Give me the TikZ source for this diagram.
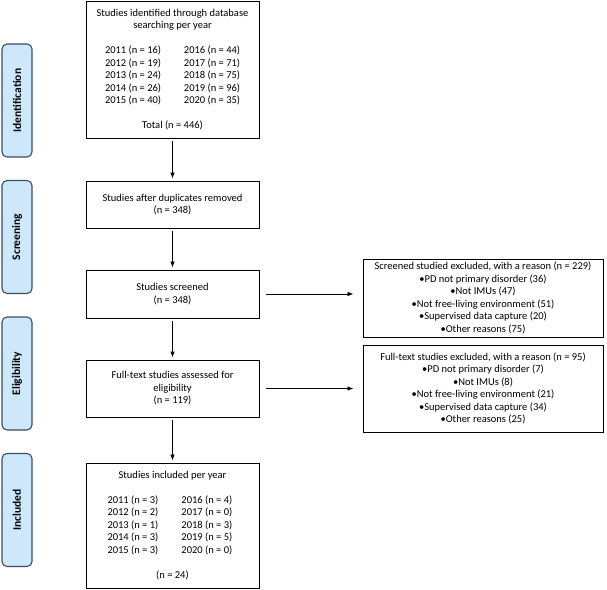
\documentclass[tikz,border=0pt]{standalone}
\usepackage{fontspec}
\setmainfont{Carlito}
\usetikzlibrary{positioning, arrows.meta}
\definecolor{phasefill}{HTML}{CDE8FA}
\definecolor{phaseline}{HTML}{3E4B63}
\tikzset{
  box/.style={draw, line width=0.9pt, align=center, minimum width=173pt, inner sep=2pt, font=\fontsize{10.5}{12.5}\selectfont},
  phase/.style={draw=phaseline, fill=phasefill, line width=1.1pt, rounded corners=5pt, rotate=90, minimum width=113pt, minimum height=30pt, font=\fontsize{11.5}{13}\selectfont\bfseries},
  flow/.style={-{Latex[length=6pt,width=4.5pt]}, line width=0.8pt, shorten <=3pt, shorten >=2pt}
}
\newcommand{\yrs}[3][79pt]{\makebox[#1][l]{#2}\makebox[56pt][l]{#3}}

\begin{document}
\begin{tikzpicture}[x=1pt, y=-1pt]
			\useasboundingbox (0,0) rectangle (607,589);
			% phases
			\node[phase] (lident) at (17,100.5) {Identification};
			\node[phase] (lscreen) at (17,237) {Screening};
			\node[phase] (lelig) at (17,373.5) {Eligibility};
			\node[phase] (lincl) at (17,510) {Included};
			% main boxes
			\node[box, minimum height=137pt] (ident) at (172.5,69.5) {Studies identified through database\\ searching per year\\[12.5pt]
				\yrs{2011 (n = 16)}{2016 (n = 44)}\\
				\yrs{2012 (n = 19)}{2017 (n = 71)}\\
				\yrs{2013 (n = 24)}{2018 (n = 75)}\\
				\yrs{2014 (n = 26)}{2019 (n = 96)}\\
				\yrs{2015 (n = 40)}{2020 (n = 35)}\\[12.5pt]
				Total (n = 446)};
			\node[box, minimum height=47pt] (dup) at (172.5,204.5) {Studies after duplicates removed\\ (n = 348)};
			\node[box, minimum height=48pt] (scr) at (172.5,294) {Studies screened\\ (n = 348)};
			\node[box, minimum height=57pt] (full) at (172.5,388.5) {Full-text studies assessed for\\ eligibility\\ (n = 119)};
			\node[box, minimum height=125pt] (incl) at (172.5,525.5) {Studies included per year\\[12.5pt]
				\yrs[74pt]{2011 (n = 3)}{2016 (n = 4)}\\
				\yrs[74pt]{2012 (n = 2)}{2017 (n = 0)}\\
				\yrs[74pt]{2013 (n = 1)}{2018 (n = 3)}\\
				\yrs[74pt]{2014 (n = 3)}{2019 (n = 5)}\\
				\yrs[74pt]{2015 (n = 3)}{2020 (n = 0)}\\[12.5pt]
				(n = 24)};
			% exclusions
			\node[box, minimum width=240pt, minimum height=78pt] (excl1) at (483,298) {Screened studied excluded, with a reason (n = 229)\\
				•PD not primary disorder (36)\\ •Not IMUs (47)\\ •Not free-living environment (51)\\ •Supervised data capture (20)\\ •Other reasons (75)};
			\node[box, minimum width=240pt, minimum height=87pt] (excl2) at (483,388.5) {Full-text studies excluded, with a reason (n = 95)\\
				•PD not primary disorder (7)\\ •Not IMUs (8)\\ •Not free-living environment (21)\\ •Supervised data capture (34)\\ •Other reasons (25)};
			% arrows
			\draw[flow] (ident) -- (dup);
			\draw[flow] (dup) -- (scr);
			\draw[flow] (scr) -- (full);
			\draw[flow] (full) -- (incl);
			\draw[flow, shorten <=7pt, shorten >=9pt] (scr.east) -- (scr.east -| excl1.west);
			\draw[flow, shorten <=7pt, shorten >=9pt] (full.east) -- (full.east -| excl2.west);
		\end{tikzpicture}
\end{document}
